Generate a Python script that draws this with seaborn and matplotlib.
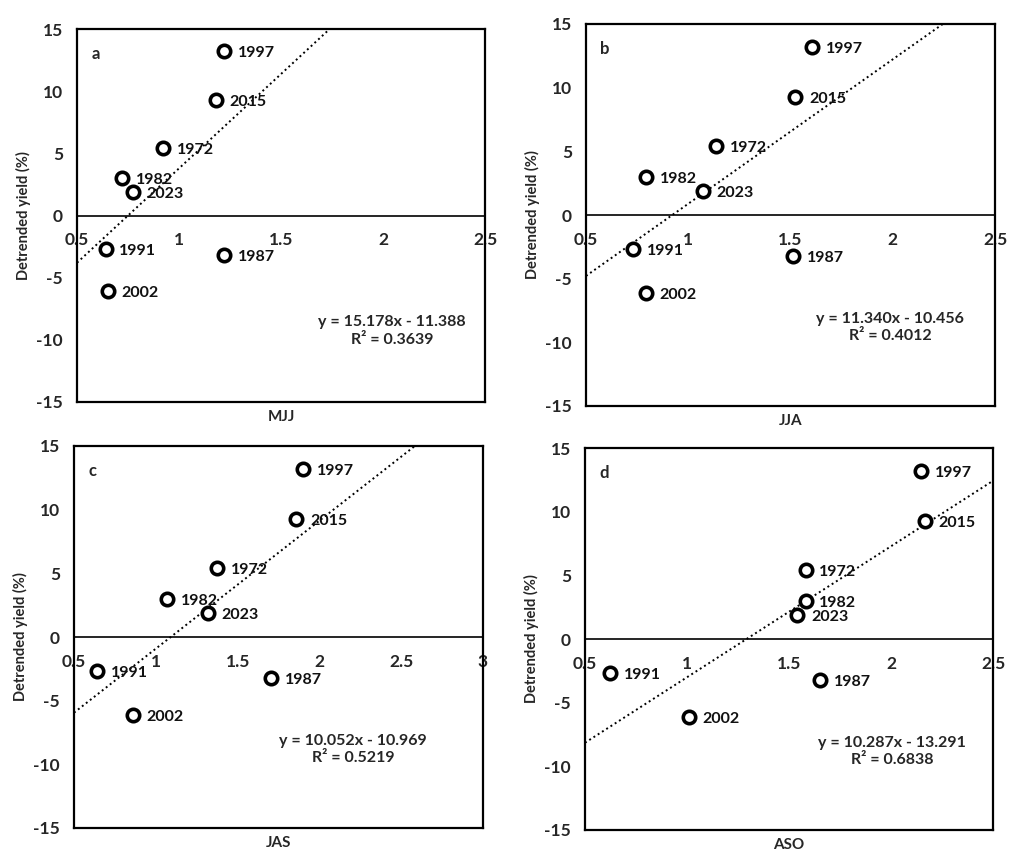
import numpy as np
import matplotlib
matplotlib.use("Agg")
import matplotlib.pyplot as plt
import seaborn as sns
import pandas as pd

years = [1972, 1982, 1987, 1991, 1997, 2002, 2015, 2023]
yield_pct = [5.4, 3.0, -3.2, -2.7, 13.2, -6.1, 9.3, 1.9]

mjj = [0.921, 0.720, 1.223, 0.640, 1.223, 0.650, 1.181, 0.773]
jja = [1.134, 0.793, 1.511, 0.728, 1.604, 0.793, 1.522, 1.070]
jas = [1.373, 1.071, 1.703, 0.641, 1.899, 0.859, 1.858, 1.318]
aso = [1.581, 1.581, 1.650, 0.621, 2.145, 1.009, 2.166, 1.540]

seasons = ["MJJ", "JJA", "JAS", "ASO"]
letters = ["a", "b", "c", "d"]
slopes = [15.178, 11.340, 10.052, 10.287]
intercepts = [-11.388, -10.456, -10.969, -13.291]
r2 = [0.3639, 0.4012, 0.5219, 0.6838]
x_max = [2.5, 2.5, 3.0, 2.5]
x_ticks = [[0.5, 1, 1.5, 2, 2.5], [0.5, 1, 1.5, 2, 2.5],
           [0.5, 1, 1.5, 2, 2.5, 3], [0.5, 1, 1.5, 2, 2.5]]

df = pd.DataFrame({"year": years, "yield": yield_pct,
                   "MJJ": mjj, "JJA": jja, "JAS": jas, "ASO": aso})

sns.set_style("white")
plt.rcParams['font.family'] = ['Lato', 'DejaVu Sans']
plt.rcParams['axes.unicode_minus'] = False

W, H = 1014, 868
fig = plt.figure(figsize=(W / 100, H / 100), dpi=100)

# axes boxes in pixels: left, top, right, bottom
boxes = [(77, 29, 485, 402), (586, 24, 995, 406),
         (74, 446, 483, 828), (585, 448, 993, 830)]
eq_pos = [(0.772, 0.19), (0.743, 0.205), (0.683, 0.205), (0.753, 0.205)]

for i, s in enumerate(seasons):
    l, t, r, b = boxes[i]
    ax = fig.add_axes([l / W, 1 - b / H, (r - l) / W, (b - t) / H])
    sns.scatterplot(data=df, x=s, y="yield", ax=ax, s=80, marker="o",
                    facecolor="white", edgecolor="black", linewidth=2.6,
                    zorder=3, legend=False)
    for yr, xv, yv in zip(df["year"], df[s], df["yield"]):
        ax.annotate(str(yr), (xv, yv), xytext=(10, -1.5), textcoords="offset points",
                    ha="left", va="center", fontsize=11.5, fontweight="bold",
                    color="#111111", zorder=4)
    xs = np.array([0.5, x_max[i]])
    ax.plot(xs, slopes[i] * xs + intercepts[i], color="black",
            linestyle=(0, (1, 1.6)), linewidth=1.4, zorder=2)

    ax.set_xlim(0.5, x_max[i])
    ax.set_ylim(-15, 15)
    ax.set_yticks([-15, -10, -5, 0, 5, 10, 15])
    ax.set_xticks([])
    for sp in ax.spines.values():
        sp.set_visible(True)
        sp.set_color("black")
        sp.set_linewidth(1.6)
    ax.tick_params(axis="y", length=0, pad=10, labelsize=12.5)
    for lab in ax.get_yticklabels():
        lab.set_fontweight("bold")
    ax.set_ylabel("Detrended yield (%)", fontsize=10.5, fontweight="bold", labelpad=4)
    ax.set_xlabel(s, fontsize=11, fontweight="bold", labelpad=6)

    # x tick labels run along the zero line
    sec = ax.secondary_xaxis(0.5)
    sec.set_alignment("bottom")
    sec.set_xticks(x_ticks[i])
    sec.set_xticklabels([f"{v:g}" for v in x_ticks[i]], fontweight="bold")
    sec.tick_params(length=0, pad=12, labelsize=12.5)
    sec.spines["bottom"].set_linewidth(1.2)
    sec.spines["bottom"].set_color("black")

    ax.text(0.035, 0.955, letters[i], transform=ax.transAxes, ha="left", va="top",
            fontsize=12, fontweight="bold")
    sign = "-" if intercepts[i] < 0 else "+"
    ax.text(eq_pos[i][0], eq_pos[i][1],
            f"y = {slopes[i]:.3f}x {sign} {abs(intercepts[i]):.3f}\nR² = {r2[i]:.4f}",
            transform=ax.transAxes, ha="center", va="center", fontsize=11.5,
            fontweight="bold", linespacing=1.3)

fig.savefig("out.png", dpi=100)
